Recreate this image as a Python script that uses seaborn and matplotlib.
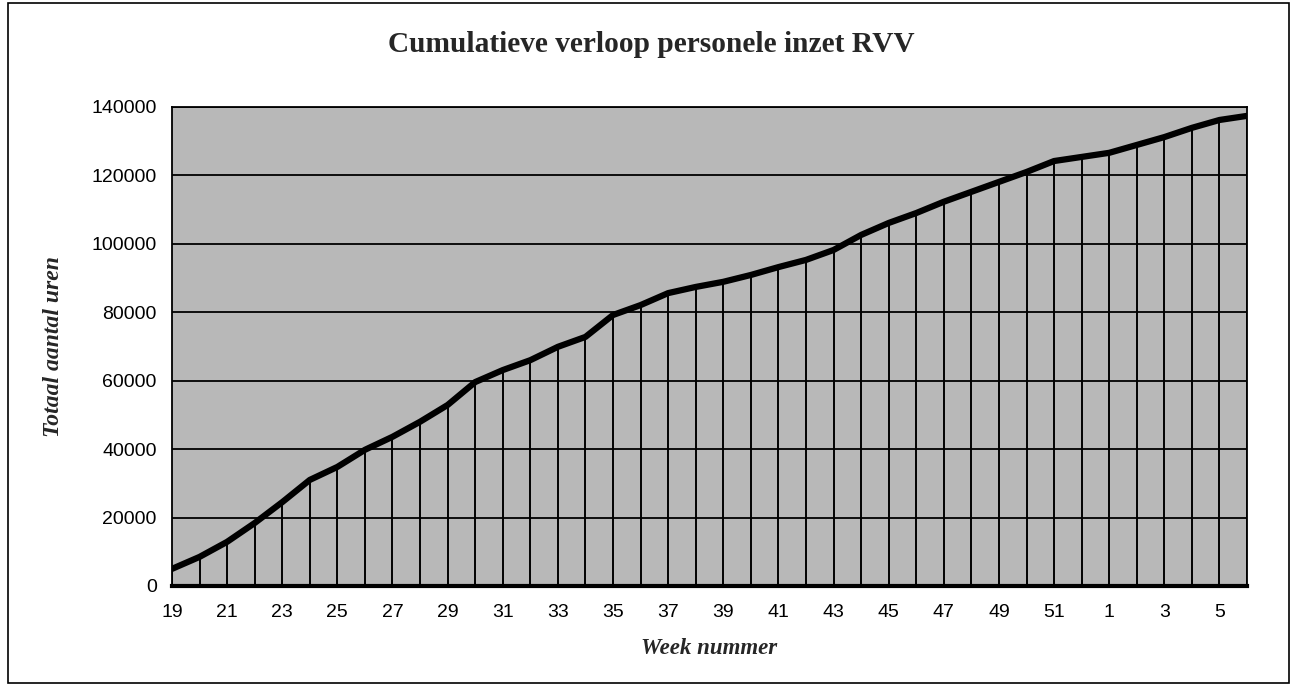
import matplotlib
matplotlib.use("Agg")
import matplotlib.pyplot as plt
import seaborn as sns
import pandas as pd
from matplotlib.patches import Rectangle

# Week numbers (week 19 of one year through week 6 of the next)
weeks = [19, 20, 21, 22, 23, 24, 25, 26, 27, 28, 29, 30, 31, 32, 33, 34, 35, 36,
         37, 38, 39, 40, 41, 42, 43, 44, 45, 46, 47, 48, 49, 50, 51, 52,
         1, 2, 3, 4, 5, 6]

# Cumulative hours worked
cumulative_hours = [5000, 8500, 12900, 18400, 24500, 31000, 34800, 39800, 43600,
                    48000, 52900, 59600, 63100, 66000, 69900, 72800, 79200, 82100,
                    85600, 87400, 88900, 90900, 93200, 95300, 98200, 102600, 106100,
                    109000, 112300, 115200, 118100, 121000, 124200, 125400, 126600,
                    128900, 131200, 133900, 136200, 137400]

y_ticks = [0, 20000, 40000, 60000, 80000, 100000, 120000, 140000]

df = pd.DataFrame({"pos": range(len(weeks)), "week": weeks, "hours": cumulative_hours})

sns.set_style("white")
plt.rcParams["font.family"] = ["Liberation Sans", "DejaVu Sans"]

fig = plt.figure(figsize=(12.94, 6.84), dpi=100)
ax = fig.add_axes([0.1329, 0.1433, 0.8308, 0.7003])
ax.set_facecolor("#b8b8b8")

# horizontal gridlines
for v in y_ticks[1:]:
    ax.axhline(v, color="black", lw=1.3, zorder=1)

# drop lines from each weekly value to the axis
ax.vlines(df["pos"], 0, df["hours"], color="black", lw=1.4, zorder=2)

sns.lineplot(data=df, x="pos", y="hours", color="black", lw=4.5, ax=ax, zorder=3)

ax.set_xlim(0, len(weeks) - 1)
ax.set_ylim(0, 140000)
ax.set_xticks(range(len(weeks)))
ax.set_xticklabels([str(w) if i % 2 == 0 else "" for i, w in enumerate(weeks)])
ax.set_yticks(y_ticks)
ax.set_yticklabels([str(v) for v in y_ticks])
ax.tick_params(axis="both", direction="out", length=5, width=1.3, colors="black",
               labelsize=14, pad=6)
ax.tick_params(axis="x", pad=8)

for side in ["top", "right", "left"]:
    ax.spines[side].set_visible(True)
    ax.spines[side].set_color("black")
    ax.spines[side].set_linewidth(1.3)
ax.spines["bottom"].set_color("black")
ax.spines["bottom"].set_linewidth(3)
ax.spines["bottom"].set_visible(True)

ax.set_xlabel("Week nummer", family="Liberation Serif", fontweight="bold",
              fontstyle="italic", fontsize=16.5, labelpad=12)
ax.set_ylabel("Totaal aantal uren", family="Liberation Serif", fontweight="bold",
              fontstyle="italic", fontsize=17, labelpad=20)

fig.text(0.503, 0.935, "Cumulatieve verloop personele inzet RVV",
         family="Liberation Serif", fontweight="bold", fontsize=21.2,
         ha="center", va="center")

# outer frame around the chart
fig.patches.append(Rectangle((8 / 1294, 0.002), 1281 / 1294, 0.993,
                             transform=fig.transFigure, fill=False,
                             edgecolor="black", lw=1.2))

fig.savefig("out.png", dpi=100)
